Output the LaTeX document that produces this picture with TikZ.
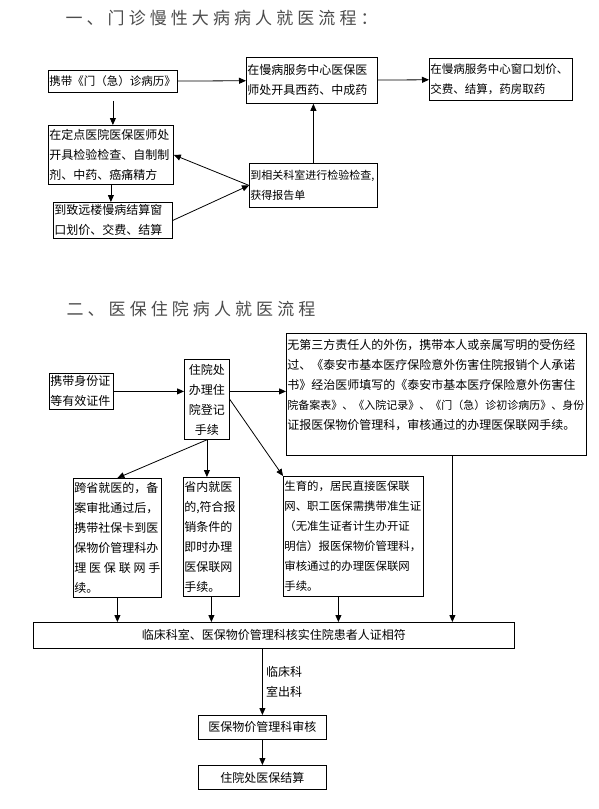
\documentclass[tikz,border=0pt]{standalone}
\usepackage{fontspec}
\setmainfont{Noto Sans CJK SC}
\newfontfamily\titlefont[LetterSpace=24]{Noto Sans CJK SC}
\usetikzlibrary{arrows.meta}

\begin{document}
\begin{tikzpicture}[x=1pt,y=-1pt,>={Triangle[length=7pt,width=6pt]},
    box/.style={draw,line width=0.8pt,anchor=north west,inner xsep=1pt,inner ysep=1pt,
      align=left,font=\fontsize{12}{20}\selectfont},
    title/.style={anchor=west,text=black!70,font=\titlefont\fontsize{17}{17}\selectfont},
    every edge/.style={draw,->,line width=0.8pt}]
      \useasboundingbox (0,0) rectangle (599,809);

      % part one
      \node[title] (t_1) at (62,18) {一、门诊慢性大病病人就医流程：};
      \node[box,text width=127pt,minimum width=129pt,minimum height=22pt,
        font=\fontsize{11.5}{20}\selectfont] (o_1) at (48,70) {携带《门（急）诊病历》};
      \node[box,text width=129pt,minimum width=131pt,minimum height=46pt] (o_2) at (246,57)
        {在慢病服务中心医保医\\师处开具西药、中成药};
      \node[box,text width=141pt,minimum width=143pt,minimum height=42pt,
        font=\fontsize{11.5}{20}\selectfont] (o_3) at (429,58)
        {在慢病服务中心窗口划价、\\交费、结算，药房取药};
      \node[box,text width=123pt,minimum width=125pt,minimum height=59pt] (o_4) at (48,125)
        {在定点医院医保医师处\\开具检验检查、自制制\\剂、中药、癌痛精方};
      \node[box,text width=117pt,minimum width=119pt,minimum height=36pt] (o_5) at (53,202)
        {到致远楼慢病结算窗\\口划价、交费、结算};
      \node[box,text width=126pt,minimum width=128pt,minimum height=44pt,
        font=\fontsize{11}{20}\selectfont] (o_6) at (249,163)
        {到相关科室进行检验检查,\\获得报告单};

      \path (o_1) edge (o_2)
            (o_2) edge (o_3);
      \path (o_1.south) edge[shorten <=8pt] (o_1.south |- o_4.north)
            (o_4.south) edge (o_4.south |- o_5.north);
      \path (o_6.west) edge (o_4.east)
            (o_5.east) edge (o_6.west)
            (o_6.north) edge (o_6.north |- o_2.south);

      % part two
      \node[title] (t_2) at (63,309) {二、医保住院病人就医流程};
      \node[box,text width=62pt,minimum width=64pt,minimum height=36pt] (i_1) at (49,373)
        {携带身份证\\等有效证件};
      \node[box,align=center,text width=43pt,minimum width=45pt,minimum height=80pt] (i_2) at (184,359)
        {住院处\\办理住\\院登记\\手续};
      \node[box,text width=298pt,minimum width=300pt,minimum height=122pt] (i_3) at (286,333)
        {无第三方责任人的外伤，携带本人或亲属写明的受伤经\\
         过、《泰安市基本医疗保险意外伤害住院报销个人承诺\\
         书》经治医师填写的《泰安市基本医疗保险意外伤害住\\
         {\fontsize{11}{20}\selectfont 院备案表》、《入院记录》、《门（急）诊初诊病历》、身份}\\
         证报医保物价管理科，审核通过的办理医保联网手续。\\ \mbox{}};
      \node[box,text width=86pt,minimum width=88pt,minimum height=119pt] (i_4) at (73,478)
        {跨省就医的，备\\案审批通过后，\\携带社保卡到医\\保物价管理科办\\
         理\hfill 医\hfill 保\hfill 联\hfill 网\hfill 手\\续。};
      \node[box,text width=54pt,minimum width=56pt,minimum height=119pt] (i_5) at (183,477)
        {省内就医\\的,符合报\\销条件的\\即时办理\\医保联网\\手续。};
      \node[box,text width=138pt,minimum width=140pt,minimum height=120pt,
        font=\fontsize{11.4}{20}\selectfont] (i_6) at (283,476)
        {生育的，居民直接医保联\\网、职工医保需携带准生证\\（无准生证者计生办开证\\
         明信）报医保物价管理科，\\审核通过的办理医保联网\\手续。};
      \node[box,align=center,text width=479pt,minimum width=481pt,minimum height=26pt] (i_7) at (33,622)
        {临床科室、医保物价管理科核实住院患者人证相符};
      \node[box,align=center,text width=126pt,minimum width=128pt,minimum height=24pt] (i_8) at (198,715)
        {医保物价管理科审核};
      \node[box,align=center,text width=126pt,minimum width=128pt,minimum height=24pt] (i_9) at (198,765)
        {住院处医保结算};

      \path (i_1.east) edge (i_1.east -| i_2.west)
            (i_2.east |- i_1.east) edge (i_1.east -| i_3.west);
      \path (i_2.south) edge (i_4.north)
            (i_2.south) edge (i_2.south |- i_5.north)
            (i_2.east) edge (i_6.north west);
      \path (i_4.south) edge (i_4.south |- i_7.north)
            (i_5.south) edge (i_5.south |- i_7.north)
            ([xshift=-15pt]i_6.south) edge ([xshift=-15pt]i_6.south |- i_7.north)
            ([xshift=16pt]i_3.south) edge ([xshift=16pt]i_3.south |- i_7.north);
      \path (i_7.south -| i_8.north) edge node[right,align=left,font=\fontsize{12}{20}\selectfont]
              {临床科\\室出科} (i_8.north)
            (i_8) edge (i_9);
\end{tikzpicture}
\end{document}
